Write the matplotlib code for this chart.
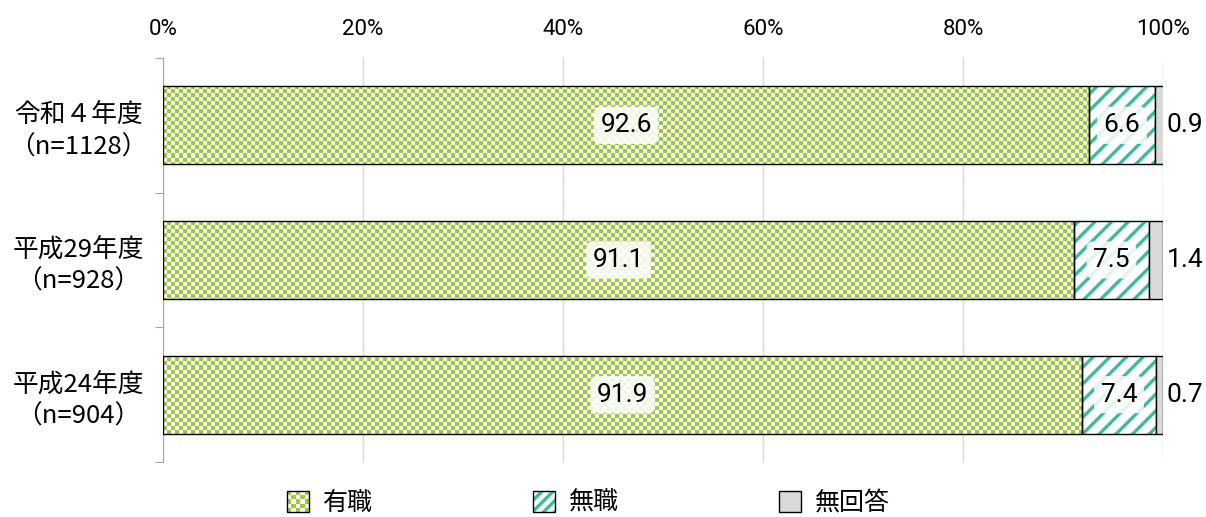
import numpy as np
import matplotlib
matplotlib.use("Agg")
import matplotlib.pyplot as plt
from matplotlib.patches import Patch, Rectangle
from matplotlib.image import BboxImage
from matplotlib.transforms import Bbox, TransformedBbox
from matplotlib.legend_handler import HandlerBase

plt.rcParams['font.family'] = ['Noto Sans CJK JP', 'DejaVu Sans']
plt.rcParams['hatch.linewidth'] = 2.4

# data
years = ['令和４年度\n（n=1128）', '平成29年度\n（n=928）', '平成24年度\n（n=904）']
employed = [92.6, 91.1, 91.9]
unemployed = [6.6, 7.5, 7.4]
no_answer = [0.9, 1.4, 0.7]
series_names = ['有職', '無職', '無回答']
xticks = [0, 20, 40, 60, 80, 100]

GREEN = '#9BCB3C'
TEAL = '#3DBB9E'
GRAY = '#D9D9D9'
NUM_FONT = 'Roboto'


def checker(rows, cols):
    a = np.add.outer(np.arange(rows), np.arange(cols)) % 2
    img = np.ones((rows, cols, 3))
    img[a == 0] = matplotlib.colors.to_rgb(GREEN)
    return img


class CheckerHandler(HandlerBase):
    def create_artists(self, legend, orig_handle, xdescent, ydescent,
                       width, height, fontsize, trans):
        bb = TransformedBbox(Bbox.from_bounds(-xdescent, -ydescent, width, height), trans)
        im = BboxImage(bb, interpolation='nearest')
        im.set_data(checker(5, 5))
        rect = Rectangle((-xdescent, -ydescent), width, height,
                         facecolor='none', edgecolor='black', lw=1, transform=trans)
        return [im, rect]


class HatchHandler(HandlerBase):
    # hatch drawn in teal, outline in black
    def create_artists(self, legend, orig_handle, xdescent, ydescent,
                       width, height, fontsize, trans):
        fill = Rectangle((-xdescent, -ydescent), width, height, facecolor='white',
                         edgecolor=TEAL, hatch='///', lw=0, transform=trans)
        rect = Rectangle((-xdescent, -ydescent), width, height,
                         facecolor='none', edgecolor='black', lw=1, transform=trans)
        return [fill, rect]


fig = plt.figure(figsize=(12.06, 5.17), dpi=100)
ax = fig.add_axes([0.1352, 0.1064, 0.8291, 0.7814])

y = np.arange(len(years))
h = 0.58
emp = np.array(employed)
une = np.array(unemployed)
noa = np.array(no_answer)

# employed bars: checker image clipped to bar outline
bars_emp = ax.barh(y, emp, height=h, facecolor='none', edgecolor='black', lw=1, zorder=4)
for b in bars_emp:
    im = ax.imshow(checker(101, 250), extent=(0, 100, 2.5, -0.5), aspect='auto',
                   interpolation='nearest', zorder=3)
    im.set_clip_path(b)

ax.barh(y, une, left=emp, height=h, facecolor='white', edgecolor=TEAL, hatch='//', lw=0, zorder=3)
ax.barh(y, une, left=emp, height=h, facecolor='none', edgecolor='black', lw=1, zorder=4)
ax.barh(y, noa, left=emp + une, height=h, facecolor=GRAY, edgecolor='black', lw=1, zorder=4)

box = dict(boxstyle='round,pad=0.25', fc='white', ec='none', alpha=0.85)
for i in range(len(years)):
    ax.text(emp[i] / 2, y[i], f'{emp[i]:.1f}', ha='center', va='center',
            fontsize=19, family=NUM_FONT, bbox=box, zorder=5)
    ax.text(emp[i] + une[i] / 2, y[i], f'{une[i]:.1f}', ha='center', va='center',
            fontsize=19, family=NUM_FONT, bbox=box, zorder=5)
    ax.text(100.35, y[i], f'{noa[i]:.1f}', ha='left', va='center',
            fontsize=19, family=NUM_FONT, zorder=5)

ax.set_xlim(0, 100)
ax.set_ylim(2.5, -0.5)
ax.xaxis.tick_top()
ax.set_xticks(xticks)
ax.set_xticklabels([f'{t}%' for t in xticks], family=NUM_FONT, fontsize=16)
ax.tick_params(axis='x', length=0, pad=13)
ax.set_yticks([-0.5, 0.5, 1.5, 2.5])
ax.set_yticklabels([])
ax.set_yticks(y, minor=True)
ax.set_yticklabels(years, minor=True, fontsize=18.5, ha='center', linespacing=1.3)
ax.tick_params(axis='y', which='major', length=6, color='#A6A6A6', direction='out')
ax.tick_params(axis='y', which='minor', length=0, pad=61)
ax.grid(axis='x', color='#D9D9D9', lw=1, zorder=0)
for s in ['top', 'right', 'bottom']:
    ax.spines[s].set_visible(False)
ax.spines['left'].set_color('#A6A6A6')

handles = [Patch(label=series_names[0]),
           Patch(label=series_names[1]),
           Patch(facecolor=GRAY, edgecolor='black', label=series_names[2])]
leg = fig.legend(handles=handles, loc='center', bbox_to_anchor=(0.488, 0.027), ncol=3,
                 frameon=False, fontsize=18, handlelength=0.88, handleheight=0.88,
                 handletextpad=0.55, columnspacing=6.4,
                 handler_map={handles[0]: CheckerHandler(), handles[1]: HatchHandler()})

fig.savefig('out.png', dpi=100)
